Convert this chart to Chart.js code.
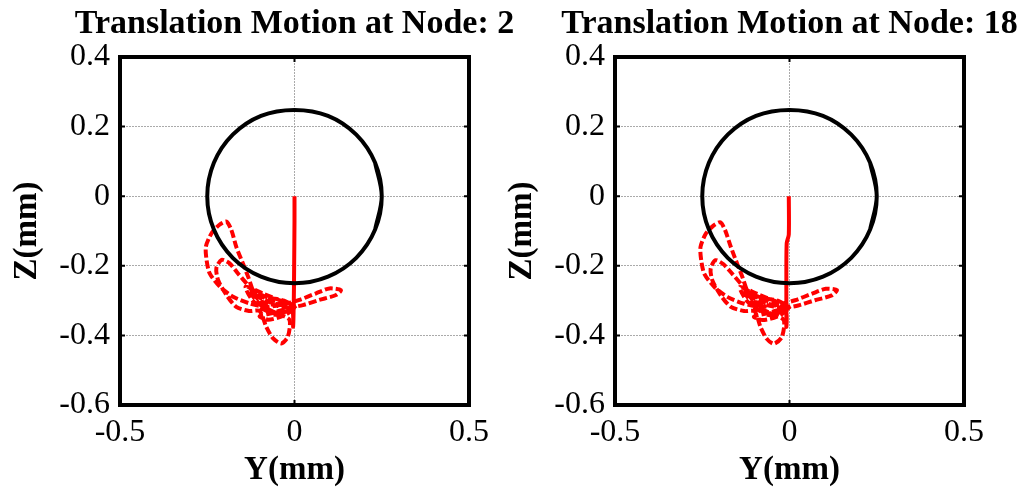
<!DOCTYPE html>
<html>
<head>
<meta charset="utf-8">
<script src="https://cdn.jsdelivr.net/npm/chart.js@4.4.0/dist/chart.umd.min.js"></script>
<style>
  body { margin: 0; background: #fff; }
  #wrap { position: relative; width: 1024px; height: 495px; overflow: hidden; }
  canvas { position: absolute; top: 0; }
</style>
</head>
<body>
<div id="wrap">
  <canvas id="node2" width="529" height="495" style="left:0"></canvas>
  <canvas id="node18" width="529" height="495" style="left:495px"></canvas>
</div>
<script>
// tick values
const yTicks = [-0.5, 0, 0.5];
const zTicks = [-0.6, -0.4, -0.2, 0, 0.2, 0.4];

// clearance circle (radius ~0.25)
const circleY = [0.231, 0.25, 0.231, 0.177, 0.096, 0, -0.096, -0.177, -0.231, -0.25, -0.231, -0.177, -0.096, 0, 0.096, 0.177, 0.231, 0.25, 0.231];
const circleZ = [-0.096, 0, 0.096, 0.177, 0.231, 0.248, 0.231, 0.177, 0.096, 0, -0.096, -0.177, -0.231, -0.25, -0.231, -0.177, -0.096, 0, 0.096];

// node 2 orbit
const node2Y = [0, 0, -0.001, -0.002, -0.004, -0.006,
  -0.03, -0.07, -0.11, -0.138, -0.162, -0.186, -0.209, -0.224, -0.219, -0.195, -0.167, -0.13, -0.1,
  -0.081, -0.062, -0.038, -0.019, -0.014, -0.04, -0.08, -0.115, -0.133, -0.148, -0.167, -0.181, -0.195,
  -0.215, -0.238, -0.254, -0.252, -0.243, -0.214, -0.176, -0.129, -0.08, -0.03, 0.014, 0.062, 0.1, 0.133,
  0.119, 0.071, 0.024, -0.02, -0.06, -0.1, -0.075, -0.035, -0.005, -0.05, -0.1, -0.125, -0.09, -0.045, -0.01,
  -0.04, -0.09, -0.14, -0.12, -0.08, -0.04, 0, -0.03, -0.08, -0.13, -0.1, -0.06, -0.02, 0.005];
const node2Z = [0, -0.07, -0.2, -0.3, -0.375, -0.33,
  -0.315, -0.305, -0.285, -0.25, -0.222, -0.193, -0.183, -0.207, -0.241, -0.284, -0.318, -0.33, -0.33,
  -0.375, -0.408, -0.423, -0.404, -0.356, -0.34, -0.322, -0.28, -0.231, -0.193, -0.145, -0.097, -0.073,
  -0.082, -0.107, -0.145, -0.183, -0.222, -0.26, -0.289, -0.308, -0.318, -0.31, -0.298, -0.279, -0.265, -0.27,
  -0.284, -0.298, -0.313, -0.322, -0.335, -0.345, -0.355, -0.345, -0.325, -0.315, -0.3, -0.265, -0.29, -0.305, -0.31,
  -0.3, -0.28, -0.26, -0.3, -0.33, -0.335, -0.32, -0.3, -0.29, -0.27, -0.31, -0.34, -0.33, -0.315];

// node 18 orbit
const node18Y = [-0.002, -0.002, -0.008, -0.009, -0.009, -0.01,
  -0.033, -0.072, -0.112, -0.14, -0.164, -0.19, -0.212, -0.226, -0.221, -0.197, -0.168, -0.13, -0.1,
  -0.083, -0.065, -0.045, -0.022, -0.016, -0.042, -0.082, -0.117, -0.135, -0.15, -0.168, -0.184, -0.198,
  -0.217, -0.24, -0.255, -0.253, -0.244, -0.215, -0.177, -0.13, -0.08, -0.03, 0.016, 0.065, 0.104, 0.136,
  0.121, 0.073, 0.025, -0.02, -0.062, -0.102, -0.077, -0.036, -0.007, -0.052, -0.102, -0.127, -0.092, -0.047, -0.012,
  -0.042, -0.092, -0.142, -0.122, -0.082, -0.042, -0.002, -0.032, -0.082, -0.132, -0.102, -0.062, -0.022, 0.003];
const node18Z = [0, -0.11, -0.135, -0.25, -0.375, -0.33,
  -0.316, -0.306, -0.286, -0.251, -0.223, -0.195, -0.184, -0.208, -0.242, -0.285, -0.318, -0.33, -0.331,
  -0.376, -0.41, -0.424, -0.405, -0.357, -0.34, -0.323, -0.281, -0.232, -0.194, -0.146, -0.099, -0.075,
  -0.084, -0.108, -0.146, -0.184, -0.223, -0.261, -0.29, -0.309, -0.318, -0.311, -0.299, -0.28, -0.266, -0.27,
  -0.285, -0.299, -0.314, -0.323, -0.336, -0.346, -0.356, -0.346, -0.326, -0.316, -0.301, -0.266, -0.291, -0.306, -0.311,
  -0.301, -0.281, -0.261, -0.301, -0.331, -0.336, -0.321, -0.301, -0.291, -0.271, -0.311, -0.341, -0.331, -0.316];

const serif = "'Liberation Serif', 'Times New Roman', serif";

function toPoints(xs, ys) {
  return xs.map((x, i) => ({ x: x, y: ys[i] }));
}

// black box with small inward tick marks, plus the title centred over the box
const framePlugin = {
  id: 'frame',
  afterDraw(chart, args, opts) {
    const { ctx, chartArea: a, scales } = chart;
    ctx.save();
    ctx.strokeStyle = '#000';
    ctx.lineWidth = 2;
    ctx.beginPath();
    yTicks.forEach(v => {
      const x = scales.x.getPixelForValue(v);
      ctx.moveTo(x, a.top); ctx.lineTo(x, a.top + 5);
      ctx.moveTo(x, a.bottom); ctx.lineTo(x, a.bottom - 5);
    });
    zTicks.forEach(v => {
      const y = scales.y.getPixelForValue(v);
      ctx.moveTo(a.left, y); ctx.lineTo(a.left + 5, y);
      ctx.moveTo(a.right, y); ctx.lineTo(a.right - 5, y);
    });
    ctx.stroke();
    ctx.lineWidth = 4;
    ctx.strokeRect(a.left, a.top, a.right - a.left, a.bottom - a.top);

    ctx.fillStyle = '#000';
    ctx.font = 'bold 34px ' + serif;
    ctx.textAlign = 'center';
    ctx.textBaseline = 'alphabetic';
    ctx.fillText(opts.text, (a.left + a.right) / 2, 33);
    ctx.restore();
  }
};

function makeChart(id, title, ys, zs) {
  return new Chart(document.getElementById(id), {
    type: 'scatter',
    data: {
      datasets: [
        {
          data: toPoints(circleY, circleZ),
          showLine: true,
          borderColor: '#000',
          borderWidth: 4,
          tension: 0.34,
          pointRadius: 0
        },
        {
          data: toPoints(ys, zs),
          showLine: true,
          borderColor: '#ff0000',
          borderWidth: 4,
          tension: 0.25,
          pointRadius: 0,
          segment: {
            borderDash: c => (Math.abs(c.p0.parsed.x) < 0.012 && Math.abs(c.p1.parsed.x) < 0.012) ? [] : [8, 3]
          }
        }
      ]
    },
    options: {
      responsive: false,
      animation: false,
      devicePixelRatio: 1,
      layout: { padding: { left: 0, right: 60, top: 57, bottom: 0 } },
      plugins: {
        legend: { display: false },
        tooltip: { enabled: false },
        title: { display: false },
        frame: { text: title }
      },
      scales: {
        x: {
          type: 'linear',
          min: -0.5,
          max: 0.5,
          afterFit: s => { s.height = 90; },
          afterBuildTicks: s => { s.ticks = yTicks.map(v => ({ value: v })); },
          ticks: {
            color: '#000',
            padding: 8,
            maxRotation: 0,
            font: { family: serif, size: 32 },
            callback: v => String(v)
          },
          grid: { color: '#aaa', lineWidth: 1, drawTicks: false },
          border: { display: false, dash: [2, 1] },
          title: {
            display: true,
            text: 'Y(mm)',
            color: '#000',
            font: { family: serif, size: 33, weight: 'bold', lineHeight: 1.2 },
            padding: { top: 0, bottom: 5 }
          }
        },
        y: {
          type: 'linear',
          min: -0.6,
          max: 0.4,
          afterFit: s => { s.width = 120; },
          afterBuildTicks: s => { s.ticks = zTicks.map(v => ({ value: v })); },
          ticks: {
            color: '#000',
            padding: 10,
            font: { family: serif, size: 32 },
            callback: v => String(v)
          },
          grid: { color: '#aaa', lineWidth: 1, drawTicks: false },
          border: { display: false, dash: [2, 1] },
          title: {
            display: true,
            text: 'Z(mm)',
            color: '#000',
            font: { family: serif, size: 33, weight: 'bold', lineHeight: 1.2 },
            padding: { top: 8, bottom: 0 }
          }
        }
      }
    },
    plugins: [framePlugin]
  });
}

makeChart('node2', 'Translation Motion at Node: 2', node2Y, node2Z);
makeChart('node18', 'Translation Motion at Node: 18', node18Y, node18Z);
</script>
</body>
</html>
